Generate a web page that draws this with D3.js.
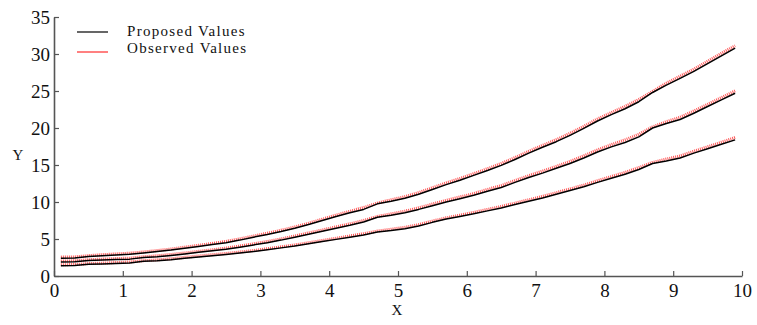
<!DOCTYPE html>
<html>
<head>
<meta charset="utf-8">
<script src="https://cdn.jsdelivr.net/npm/d3@7"></script>
<style>
  html, body { margin: 0; padding: 0; background: #fff; }
  svg { display: block; }
  text { font-family: "Liberation Serif", "Times New Roman", Times, serif; fill: #111; }
</style>
</head>
<body>
<svg id="chart" width="757" height="325"></svg>
<script>
// Sample positions along X
const xs = [0.1,0.3,0.5,0.7,0.9,1.1,1.3,1.5,1.7,1.9,2.1,2.3,2.5,2.7,2.9,3.1,3.3,3.5,3.7,3.9,
            4.1,4.3,4.5,4.7,4.9,5.1,5.3,5.5,5.7,5.9,6.1,6.3,6.5,6.7,6.9,7.1,7.3,7.5,7.7,7.9,
            8.1,8.3,8.5,8.7,8.9,9.1,9.3,9.5,9.7,9.9];

// Proposed values, three curves (upper, middle, lower)
const proposedUpper = [2.40,2.42,2.65,2.75,2.85,2.95,3.12,3.30,3.50,3.75,4.00,4.25,4.50,4.85,5.25,5.60,6.00,6.45,6.95,7.50,
                       8.05,8.55,9.00,9.75,10.10,10.50,11.05,11.70,12.35,12.95,13.60,14.25,14.95,15.75,16.60,17.40,18.15,19.00,19.95,20.95,
                       21.80,22.60,23.55,24.80,25.80,26.70,27.65,28.70,29.75,30.80];
const proposedMiddle = [1.90,1.92,2.10,2.15,2.22,2.28,2.50,2.60,2.78,2.98,3.20,3.40,3.62,3.90,4.20,4.50,4.85,5.25,5.65,6.05,
                        6.45,6.85,7.30,7.95,8.20,8.55,9.00,9.50,10.00,10.45,10.90,11.45,11.95,12.65,13.30,13.90,14.55,15.20,15.95,16.75,
                        17.45,18.05,18.80,20.00,20.60,21.15,22.00,22.90,23.80,24.70];
const proposedLower = [1.40,1.42,1.58,1.62,1.70,1.76,1.98,2.05,2.20,2.40,2.58,2.75,2.92,3.10,3.30,3.55,3.80,4.05,4.35,4.65,
                       4.95,5.25,5.55,5.95,6.15,6.40,6.75,7.25,7.70,8.05,8.40,8.80,9.20,9.65,10.10,10.55,11.05,11.55,12.05,12.65,
                       13.20,13.75,14.40,15.20,15.55,15.95,16.60,17.20,17.80,18.40];

// Observed values, same three curves
const observedUpper = [2.55,2.58,2.75,2.88,2.98,3.08,3.25,3.44,3.64,3.90,4.15,4.40,4.68,5.02,5.40,5.78,6.18,6.63,7.13,7.68,
                       8.23,8.75,9.25,9.85,10.30,10.72,11.28,11.92,12.58,13.18,13.83,14.50,15.20,16.00,16.85,17.65,18.42,19.28,20.22,21.22,
                       22.08,22.92,23.85,24.95,26.05,27.00,27.95,29.02,30.08,31.12];
const observedMiddle = [2.02,2.05,2.20,2.28,2.35,2.42,2.60,2.74,2.91,3.11,3.33,3.54,3.77,4.05,4.35,4.66,5.01,5.41,5.82,6.22,
                        6.64,7.05,7.50,8.05,8.40,8.76,9.22,9.72,10.22,10.68,11.14,11.70,12.22,12.90,13.56,14.17,14.82,15.48,16.24,17.04,
                        17.75,18.40,19.15,20.15,20.85,21.45,22.30,23.20,24.10,25.02];
const observedLower = [1.52,1.55,1.68,1.74,1.82,1.90,2.07,2.18,2.33,2.52,2.70,2.88,3.05,3.24,3.44,3.69,3.94,4.20,4.50,4.80,
                       5.10,5.41,5.72,6.07,6.32,6.58,6.94,7.42,7.86,8.22,8.60,9.00,9.40,9.85,10.30,10.76,11.26,11.77,12.28,12.88,
                       13.44,14.00,14.65,15.35,15.80,16.22,16.86,17.46,18.07,18.72];

const xTicks = [0,1,2,3,4,5,6,7,8,9,10];
const yTicks = [0,5,10,15,20,25,30,35];
const legendLabels = ["Proposed Values", "Observed Values"];

const svg = d3.select("#chart");
const x = d3.scaleLinear().domain([0, 10]).range([54, 742]);
const y = d3.scaleLinear().domain([0, 35]).range([276, 17]);

// Axes: ticks drawn inward, no top/right frame
const xAxis = svg.append("g")
  .attr("transform", `translate(0,${y(0)})`)
  .call(d3.axisBottom(x).tickValues(xTicks).tickSizeInner(-5).tickSizeOuter(0).tickPadding(8));
const yAxis = svg.append("g")
  .attr("transform", `translate(${x(0)},0)`)
  .call(d3.axisLeft(y).tickValues(yTicks).tickSizeInner(-5).tickSizeOuter(0).tickPadding(4));

[xAxis, yAxis].forEach(g => {
  g.select(".domain").attr("stroke", "#555").attr("stroke-width", 1.6);
  g.selectAll(".tick line").attr("stroke", "#555").attr("stroke-width", 1.2);
  g.selectAll(".tick text")
    .style("font-family", '"Liberation Serif", "Times New Roman", Times, serif')
    .style("font-size", "19px")
    .attr("fill", "#111");
});
yAxis.selectAll(".tick text").attr("dy", "0.36em");

// Axis titles
svg.append("text").attr("x", 397).attr("y", 315).attr("text-anchor", "middle")
  .style("font-size", "15px").text("X");
svg.append("text").attr("x", 18).attr("y", 160).attr("text-anchor", "middle")
  .style("font-size", "15px").text("Y");

const line = d3.line().x((d, i) => x(xs[i])).y(d => y(d));

// Observed curves: red dotted, underneath
[observedUpper, observedMiddle, observedLower].forEach(s => {
  svg.append("path").datum(s)
    .attr("d", line)
    .attr("fill", "none")
    .attr("stroke", "#ff3b3b")
    .attr("stroke-opacity", 0.85)
    .attr("stroke-width", 3)
    .attr("stroke-dasharray", "1,1");
});

// Proposed curves: black solid, on top
[proposedUpper, proposedMiddle, proposedLower].forEach(s => {
  svg.append("path").datum(s)
    .attr("d", line)
    .attr("fill", "none")
    .attr("stroke", "#000")
    .attr("stroke-width", 1.5)
    .attr("stroke-linejoin", "round");
});

// Legend
const legend = svg.append("g");
legend.append("line").attr("x1", 77).attr("x2", 108).attr("y1", 32).attr("y2", 32)
  .attr("stroke", "#000").attr("stroke-width", 1.2);
legend.append("line").attr("x1", 77).attr("x2", 108).attr("y1", 52).attr("y2", 52)
  .attr("stroke", "#ff8080").attr("stroke-width", 2);
legend.selectAll("text.lg").data(legendLabels).enter().append("text")
  .attr("class", "lg")
  .attr("x", 127)
  .attr("y", (d, i) => 36 + i * 17)
  .style("font-size", "15px")
  .style("letter-spacing", "1.3px")
  .text(d => d);
</script>
</body>
</html>
